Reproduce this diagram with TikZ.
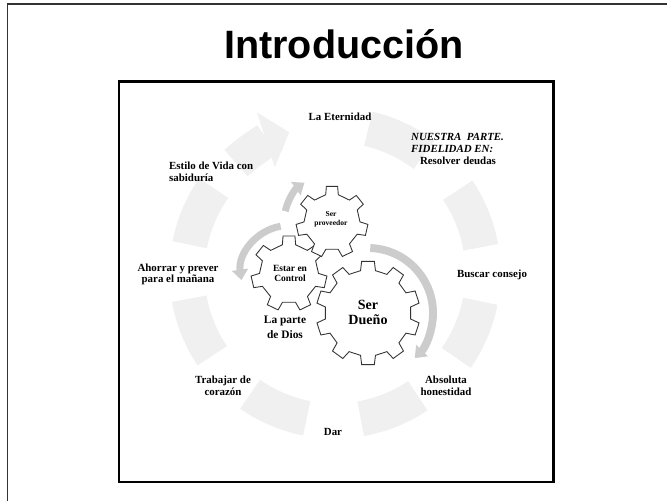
\documentclass[tikz,border=0pt]{standalone}
\usepackage{fontspec}
\setmainfont{Liberation Serif}
\setsansfont{Liberation Sans}
\usetikzlibrary{arrows.meta}

\begin{document}
\begin{tikzpicture}[
    etiqueta/.style={align=center, font=\fontsize{6.2}{6.6}\selectfont\bfseries},
    rueda/.style={draw=black!80, line width=0.5pt, fill=white},
    anillo/.style={draw=black!6, line width=20pt},
    flecha/.style={draw=black!20, line width=4pt, -{Triangle[width=9pt,length=6pt]}}]

    \useasboundingbox (0,0) rectangle (13.34,10.02);
    \draw[line width=1.1pt, black!80] (0.15,-0.5) -- (0.15,9.94) -- (13.8,9.94);
    \draw[line width=1.7pt] (2.38,0.38) rectangle (11.06,8.39);

    \node (Titulo) at (6.88,9.14) {\fontsize{22.5}{26}\selectfont\sffamily\bfseries Introducción};

    \coordinate (Centro)          at (6.70,4.56);
    \coordinate (CentroDueno)     at (7.36,3.76);
    \coordinate (CentroEstar)     at (5.78,4.55);
    \coordinate (CentroProveedor) at (6.64,5.58);

    \foreach \a in {10,53,145,190,235,280,325}
      \draw[anillo] (Centro) ++(\a:2.96) arc[start angle=\a, end angle=\a+24, radius=2.96];
    \draw[anillo, -{Triangle[width=32pt,length=14pt]}] (Centro) ++(132:2.96) arc[start angle=132, end angle=108, radius=2.96];

    \draw[flecha] (CentroEstar) ++(100:0.96) arc[start angle=100, end angle=188, radius=0.96];
    \draw[flecha] (CentroProveedor) ++(167:0.96) arc[start angle=167, end angle=125, radius=0.96];
    \draw[flecha, line width=4.5pt] (CentroDueno) ++(88:1.30) arc[start angle=88, end angle=-44, radius=1.30];

    \draw[rueda, shift={(CentroDueno)}] (80:0.86) \foreach \i in {0,...,9} { -- ({90+36*\i-10}:0.86) -- ({90+36*\i-7}:1.04) -- ({90+36*\i+7}:1.04) -- ({90+36*\i+10}:0.86) } -- cycle;
    \draw[rueda, shift={(CentroEstar)}] (77:0.59) \foreach \i in {0,...,6} { -- ({90+360/7*\i-13}:0.59) -- ({90+360/7*\i-9}:0.76) -- ({90+360/7*\i+9}:0.76) -- ({90+360/7*\i+13}:0.59) } -- cycle;
    \draw[rueda, shift={(CentroProveedor)}] (77:0.56) \foreach \i in {0,...,6} { -- ({90+360/7*\i-13}:0.56) -- ({90+360/7*\i-9}:0.72) -- ({90+360/7*\i+9}:0.72) -- ({90+360/7*\i+13}:0.56) } -- cycle;

    \node[etiqueta] (LaEternidad)   at (6.80,7.68) {La Eternidad};
    \node[etiqueta, align=left, anchor=west] (NuestraParte) at (8.10,7.04) {\textit{NUESTRA\ \ PARTE.}\\\textit{FIDELIDAD EN:}\\\hspace*{5pt}Resolver deudas};
    \node[etiqueta, align=left, anchor=west] (EstiloVida) at (3.26,6.59) {Estilo de Vida con\\sabiduría};
    \node[etiqueta] (Ahorrar)       at (3.56,4.53) {Ahorrar y prever\\para el mañana};
    \node[etiqueta] (BuscarConsejo) at (9.84,4.52) {Buscar consejo};
    \node[etiqueta] (Trabajar)      at (4.46,2.30) {Trabajar de\\corazón};
    \node[etiqueta] (Absoluta)      at (8.92,2.30) {Absoluta\\honestidad};
    \node[etiqueta] (Dar)           at (6.66,1.38) {Dar};

    \node[etiqueta, font=\fontsize{6.5}{8.5}\selectfont\bfseries] (LaParte) at (5.70,3.47) {La parte\\de Dios};
    \node[etiqueta, font=\fontsize{8}{8.6}\selectfont\bfseries] (SerDueno) at (7.36,3.78) {Ser\\Dueño};
    \node[etiqueta, font=\fontsize{5.4}{5.8}\selectfont\bfseries] (EstarControl) at (5.80,4.55) {Estar en\\Control};
    \node[etiqueta, font=\fontsize{4.3}{5}\selectfont\bfseries] (SerProveedor) at (6.62,5.63) {Ser\\proveedor};
\end{tikzpicture}
\end{document}
